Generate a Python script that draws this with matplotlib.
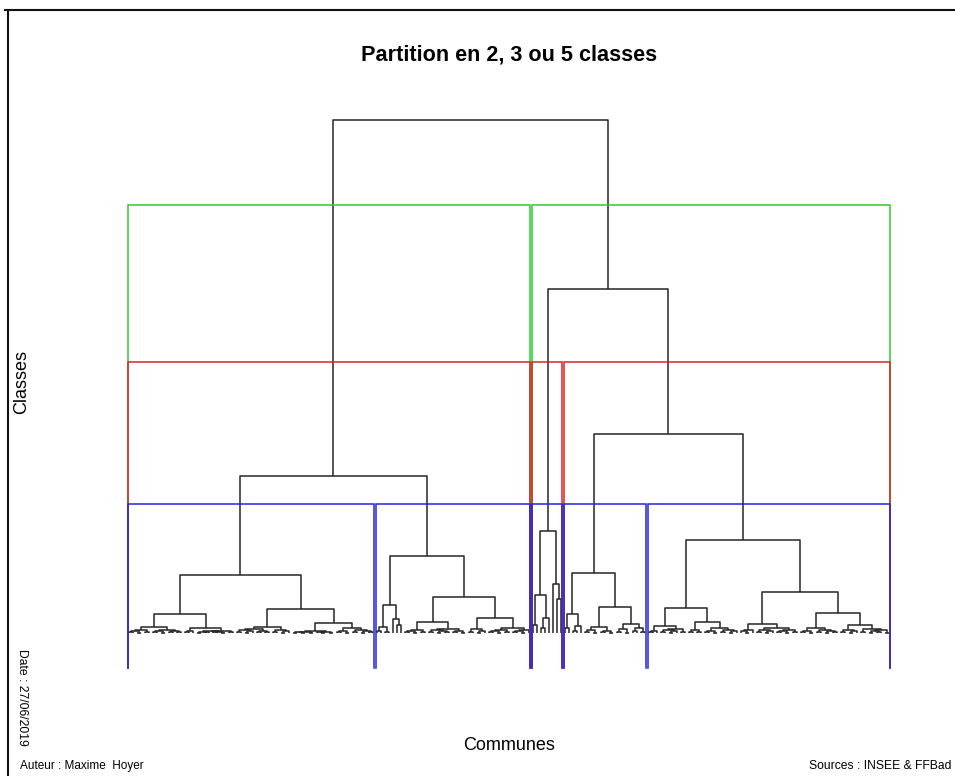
import numpy as np
import matplotlib.pyplot as plt
from matplotlib.collections import LineCollection
from matplotlib.lines import Line2D

plt.rcParams['font.family'] = ['Liberation Sans', 'DejaVu Sans']

# Merge height between each pair of neighbouring communes, in dendrogram order.
# One list per class of the 5-class partition.
gaps_classe1 = [0.1, 0.2, 0.0, 0.3, 0.1, 0.6,
                0.1, 0.25, 0.0, 0.35, 0.1, 0.2, 0.1, 1.9,
                0.1, 0.2, 0.5,
                0.0, 0.15, 0.1, 0.2, 0.1, 0.15, 0.0, 0.25,
                0.1, 5.8,
                0.1, 0.3, 0.0, 0.2, 0.4, 0.1, 0.25, 0.1, 0.6,
                0.1, 0.3, 0.0, 0.2, 2.4,
                0.0, 0.1, 0.0, 0.15, 0.05, 0.25,
                0.1, 0.0, 0.15, 0.0, 1.0,
                0.1, 0.2, 0.0, 0.5,
                0.1, 0.3, 0.0, 0.2, 0.1]
gaps_classe2 = [0.2, 0.6, 0.1, 2.8,
                1.4, 0.8, 7.7,
                0.1, 0.2, 0.0, 0.3, 0.1, 1.1,
                0.1, 0.3, 0.0, 0.2, 0.15, 0.4, 0.1, 0.2, 0.0, 3.6,
                0.1, 0.4, 0.0, 0.2, 1.5,
                0.1, 0.2, 0.0, 0.3, 0.1, 0.5, 0.1, 0.2, 0.0, 0.3]
gaps_classe3 = [0.8, 3.8, 0.5, 1.5, 10.2, 4.9, 3.4]
gaps_classe4 = [0.5, 1.9, 0.2, 0.7, 6.0,
                0.1, 0.3, 0.0, 0.6, 0.1, 0.2, 0.0, 2.6,
                0.1, 0.4, 0.0, 0.9, 0.2, 0.5, 0.1]
gaps_classe5 = [0.1, 0.2, 0.7,
                0.1, 0.3, 0.0, 0.2, 0.4, 0.1, 2.5,
                0.1, 0.3, 0.1, 1.1,
                0.1, 0.2, 0.0, 0.5, 0.1, 0.3, 0.0, 0.2, 9.3,
                0.2, 0.0, 0.3, 0.9,
                0.1, 0.3, 0.0, 0.2, 0.5, 0.1, 0.2, 0.0, 0.3, 0.1, 4.1,
                0.1, 0.2, 0.0, 0.5,
                0.1, 0.3, 0.0, 0.2, 0.1, 2.0,
                0.1, 0.3, 0.0, 0.2, 0.8,
                0.1, 0.4, 0.0, 0.2, 0.1, 0.3, 0.0]
# heights of the merges joining the classes (1|2, 2|3, 3|4, 4|5)
jonctions = [15.7, 51.3, 34.4, 19.9]

partitions = [2, 3, 5]
couleurs = ['#2ccc2c', '#dd2424', '#2424dd']

gaps = (gaps_classe1 + [jonctions[0]] + gaps_classe2 + [jonctions[1]] +
        gaps_classe3 + [jonctions[2]] + gaps_classe4 + [jonctions[3]] +
        gaps_classe5)
n = len(gaps) + 1


def build(lo, hi, segs):
    # split the range at its highest merge, like hclust's tree
    if lo == hi:
        return float(lo), 0.0
    k = lo + int(np.argmax(gaps[lo:hi]))
    xl, hl = build(lo, k, segs)
    xr, hr = build(k + 1, hi, segs)
    h = gaps[k]
    segs.append([(xl, hl), (xl, h), (xr, h), (xr, hr)])
    return (xl + xr) / 2, h


W, H = 955, 776
fig = plt.figure(figsize=(W / 100, H / 100), dpi=100)
ybot, ytop = -3.5, 53.35
ax = fig.add_axes([128 / W, (H - 668) / H, 762 / W, 568.5 / H])
ax.set_xlim(-0.34, n - 1 + 0.33)
ax.set_ylim(ybot, ytop)
ax.axis('off')

segs = []
build(0, n - 1, segs)
ax.add_collection(LineCollection(segs, colors='#262626', linewidths=1.1))

# rect.hclust style boxes for each partition
heights = sorted(gaps, reverse=True)
for k, col in zip(partitions, couleurs):
    cut = (heights[k - 2] + heights[k - 1]) / 2
    bounds = [i for i, g in enumerate(gaps) if g > cut]
    starts = [0] + [b + 1 for b in bounds]
    ends = bounds + [n - 1]
    for s, e in zip(starts, ends):
        ax.plot([s - 0.34, s - 0.34, e + 0.33, e + 0.33], [ybot, cut, cut, ybot],
                color=col, lw=1.1, clip_on=False, solid_joinstyle='miter')

# outer frame (top and left sides)
fig.add_artist(Line2D([5 / W, 1.0], [1 - 9.5 / H, 1 - 9.5 / H], color='#111111', lw=1.5))
fig.add_artist(Line2D([7.5 / W, 7.5 / W], [0.0, 1 - 9.5 / H], color='#111111', lw=1.5))

fig.text(509 / W, 1 - 55 / H, 'Partition en 2, 3 ou 5 classes', ha='center', va='center',
         fontsize=15.6, fontweight='bold')
fig.text(22 / W, 1 - 382 / H, 'Classes', rotation=90, ha='center', va='center', fontsize=13)
fig.text(509 / W, 1 - 746 / H, 'Communes', ha='center', va='center', fontsize=13)
fig.text(22 / W, 1 - 697 / H, 'Date : 27/06/2019', rotation=-90, ha='center', va='center',
         fontsize=8.7)
fig.text(20 / W, 1 - 766 / H, 'Auteur : Maxime  Hoyer', ha='left', va='center', fontsize=8.5)
fig.text(951 / W, 1 - 766 / H, 'Sources : INSEE & FFBad', ha='right', va='center', fontsize=8.7)

fig.savefig('out.png', dpi=100)
